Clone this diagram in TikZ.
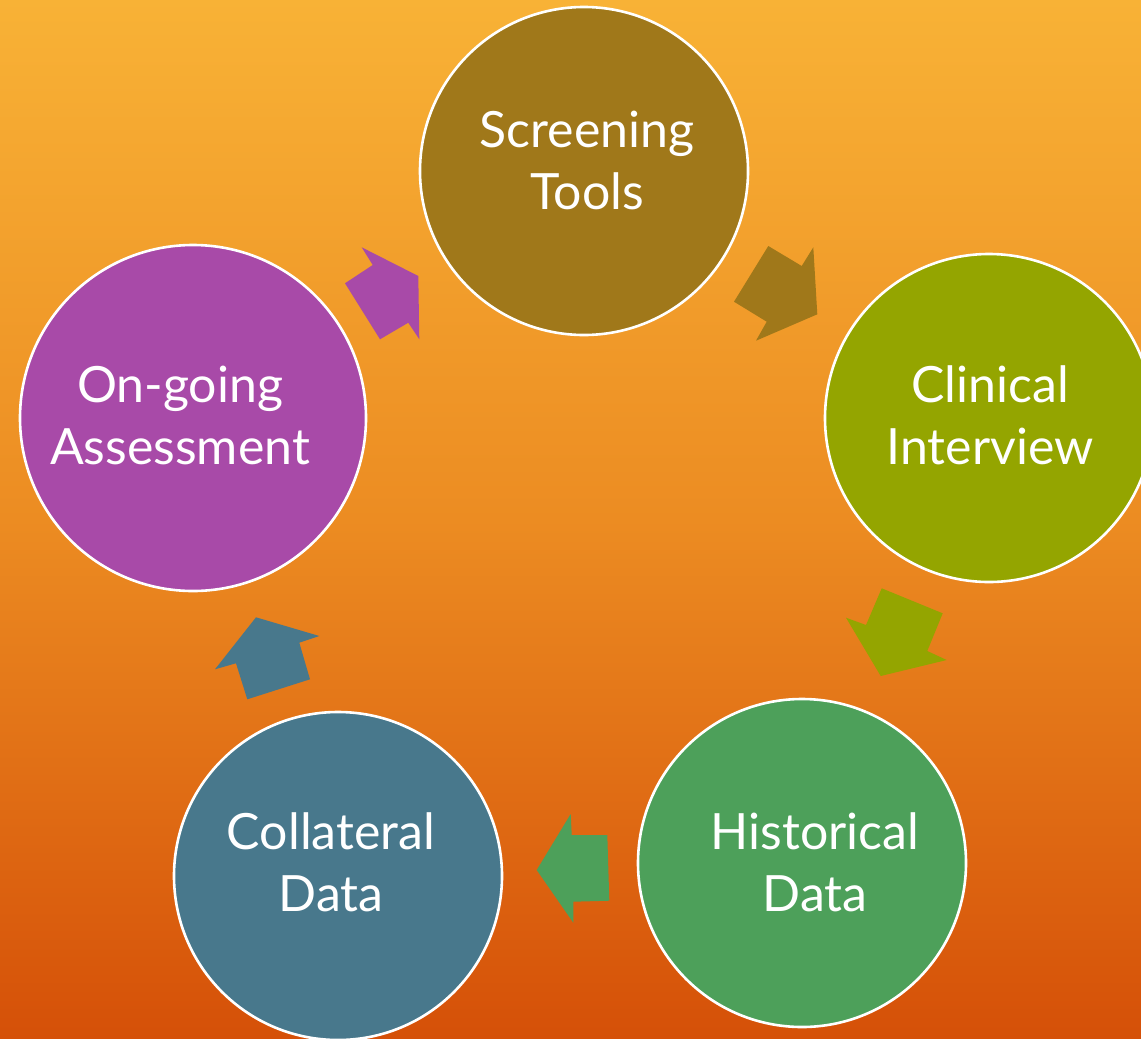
\documentclass[tikz,border=0pt]{standalone}
\usepackage{fontspec}
\setmainfont{Lato}
\definecolor{bgtop}{RGB}{248,178,54}
\definecolor{bgmid}{RGB}{236,140,34}
\definecolor{bgbot}{RGB}{213,80,8}
\definecolor{cscreen}{RGB}{160,120,26}
\definecolor{cclin}{RGB}{148,165,0}
\definecolor{chist}{RGB}{77,160,90}
\definecolor{ccoll}{RGB}{72,120,140}
\definecolor{congo}{RGB}{168,74,168}
\tikzset{
  stagecircle/.style={circle, draw=white, line width=2.6pt, inner sep=0pt, minimum size=#1},
  stagetext/.style={text=white, align=center, font=\fontsize{50}{62}\selectfont},
}
\begin{document}
\begin{tikzpicture}[x=1pt,y=-1pt]
\useasboundingbox (0,0) rectangle (1141,1039);
\shade[top color=bgtop, bottom color=bgbot, middle color=bgmid] (0,0) rectangle (1141,1039);
\begin{scope}
\clip (0,0) rectangle (1141,1039);
% circles
\node[stagecircle=328pt, fill=cscreen] (screen) at (584,171) {};
\node[stagecircle=328pt, fill=cclin] (clin) at (989,418) {};
\node[stagecircle=328pt, fill=chist] (hist) at (802,863) {};
\node[stagecircle=328pt, fill=ccoll] (coll) at (338,876) {};
\node[stagecircle=346pt, fill=congo] (ongo) at (193,418) {};
% texts
\node[stagetext] (tscreen) at (587,160) {Screening\\Tools};
\node[stagetext] (tclin) at (990,415) {Clinical\\Interview};
\node[stagetext] (thist) at (815,862) {Historical\\Data};
\node[stagetext] (tcoll) at (331,862) {Collateral\\Data};
\node[stagetext] (tongo) at (180,415) {On-going\\Assessment};
% arrows
\fill[congo] (361.7,247.3) -- (418.3,276) -- (419.3,339.3) -- (408.3,322.7) -- (380,339.3) -- (345,283.3) -- (372.7,265) -- cycle;
\fill[cscreen] (768.3,246) -- (801.7,266) -- (813.3,247.3) -- (817.3,314.3) -- (756,340.7) -- (766.7,321.7) -- (734,301.7) -- cycle;
\fill[cclin] (881.7,588.3) -- (942.7,613.3) -- (927.3,651) -- (946.7,660) -- (880.7,676) -- (846,617.7) -- (866,625) -- cycle;
\fill[chist] (570.7,814) -- (571.7,835) -- (607.3,835) -- (609.3,900.7) -- (573.3,901.7) -- (573.3,922.7) -- (536.7,870) -- cycle;
\fill[ccoll] (256,617.3) -- (319.3,636) -- (299.3,642.7) -- (310,679.3) -- (247.3,699.3) -- (236,663.3) -- (215,669.3) -- cycle;
\end{scope}
\end{tikzpicture}
\end{document}
